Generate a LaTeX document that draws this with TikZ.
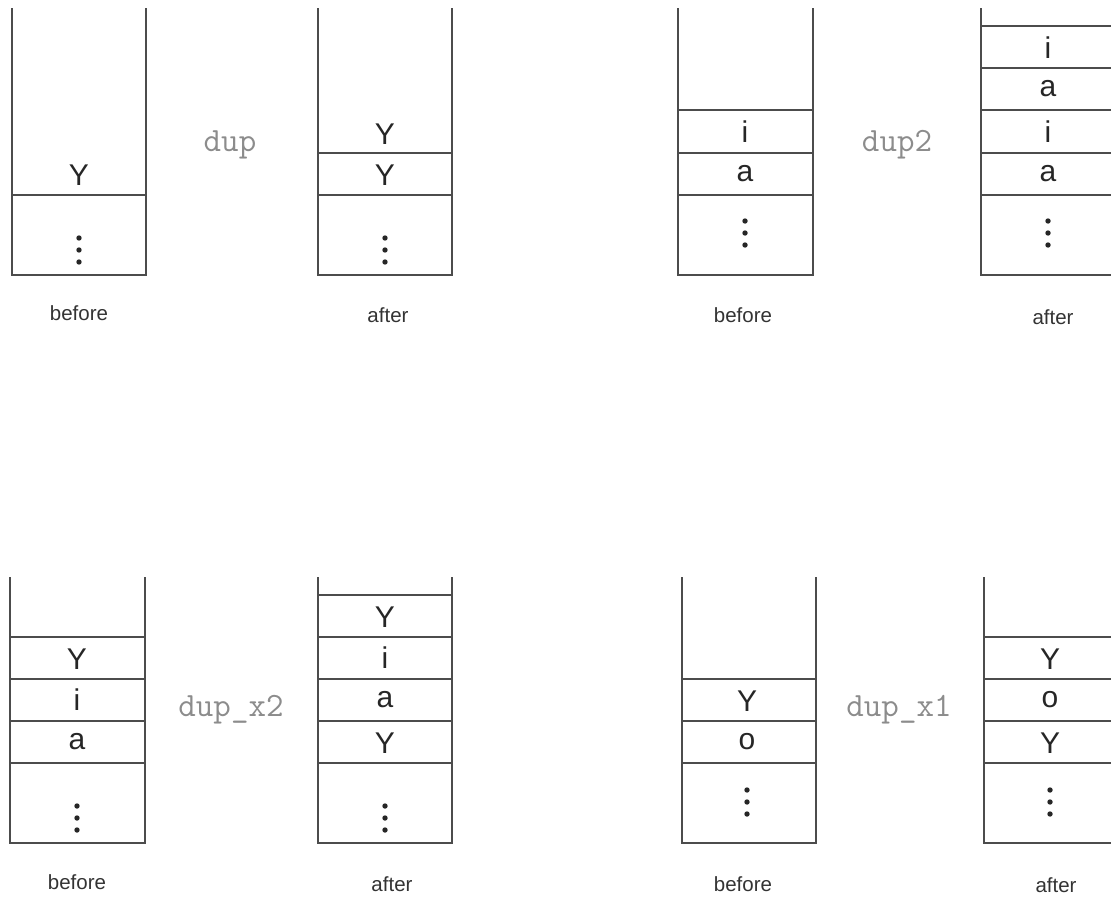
\documentclass[tikz,border=0pt]{standalone}
\usepackage{fontspec}
\usepackage{tikz}
\newfontfamily\arialfont{Liberation Sans}

\tikzset{
  stackline/.style={draw=black!70, line width=1.8pt},
  cell/.style={inner sep=0pt, text=black!85, font=\arialfont\fontsize{30}{30}\selectfont},
  opname/.style={inner sep=0pt, text=black!45, font=\ttfamily\fontsize{34}{34}\selectfont},
  caption/.style={inner sep=0pt, text=black!80, font=\arialfont\fontsize{20.5}{20.5}\selectfont}
}

\begin{document}
\begin{tikzpicture}[x=1pt,y=-1pt]

   \useasboundingbox (0,0) rectangle (1111,897);
   \clip (0,0) rectangle (1111,897);

   % dup
   \draw[stackline] (12,8) -- (12,275) -- (146,275) -- (146,8);
   \draw[stackline] (12,195) -- (146,195);
   \node[cell] (dupBy) at (79,175) {Y};
   \foreach \d in {238,250,262} \fill[black!85] (79,\d) circle (2.7);
   \node[caption] (dupBefore) at (79,313) {before};

   \node[opname] (dupOp) at (230,145) {dup};

   \draw[stackline] (318,8) -- (318,275) -- (452,275) -- (452,8);
   \draw[stackline] (318,153) -- (452,153) (318,195) -- (452,195);
   \node[cell] (dupAyTop) at (385,134) {Y};
   \node[cell] (dupAy) at (385,175) {Y};
   \foreach \d in {238,250,262} \fill[black!85] (385,\d) circle (2.7);
   \node[caption] (dupAfter) at (388,315) {after};

   % dup2
   \draw[stackline] (678,8) -- (678,275) -- (813,275) -- (813,8);
   \draw[stackline] (678,110) -- (813,110) (678,153) -- (813,153) (678,195) -- (813,195);
   \node[cell] (dupTwoBi) at (745,132) {i};
   \node[cell] (dupTwoBa) at (745,174) {a};
   \foreach \d in {221,233,245} \fill[black!85] (745,\d) circle (2.7);
   \node[caption] (dupTwoBefore) at (743,315) {before};

   \node[opname] (dupTwoOp) at (897,145) {dup2};

   \draw[stackline] (981,8) -- (981,275) -- (1116,275) -- (1116,8);
   \draw[stackline] (981,26) -- (1116,26) (981,68) -- (1116,68) (981,110) -- (1116,110)
                    (981,153) -- (1116,153) (981,195) -- (1116,195);
   \node[cell] (dupTwoAiTop) at (1048,48) {i};
   \node[cell] (dupTwoAaTop) at (1048,89) {a};
   \node[cell] (dupTwoAi) at (1048,132) {i};
   \node[cell] (dupTwoAa) at (1048,174) {a};
   \foreach \d in {221,233,245} \fill[black!85] (1048,\d) circle (2.7);
   \node[caption] (dupTwoAfter) at (1053,317) {after};

   % dup_x2
   \draw[stackline] (10,577) -- (10,843) -- (145,843) -- (145,577);
   \draw[stackline] (10,637) -- (145,637) (10,679) -- (145,679) (10,721) -- (145,721)
                    (10,763) -- (145,763);
   \node[cell] (dupXtwoBy) at (77,659) {Y};
   \node[cell] (dupXtwoBi) at (77,700) {i};
   \node[cell] (dupXtwoBa) at (77,742) {a};
   \foreach \d in {806,818,830} \fill[black!85] (77,\d) circle (2.7);
   \node[caption] (dupXtwoBefore) at (77,882) {before};

   \node[opname] (dupXtwoOp) at (231,710) {dup\_x2};

   \draw[stackline] (318,577) -- (318,843) -- (452,843) -- (452,577);
   \draw[stackline] (318,595) -- (452,595) (318,637) -- (452,637) (318,679) -- (452,679)
                    (318,721) -- (452,721) (318,763) -- (452,763);
   \node[cell] (dupXtwoAyTop) at (385,617) {Y};
   \node[cell] (dupXtwoAi) at (385,658) {i};
   \node[cell] (dupXtwoAa) at (385,700) {a};
   \node[cell] (dupXtwoAy) at (385,743) {Y};
   \foreach \d in {806,818,830} \fill[black!85] (385,\d) circle (2.7);
   \node[caption] (dupXtwoAfter) at (392,884) {after};

   % dup_x1
   \draw[stackline] (682,577) -- (682,843) -- (816,843) -- (816,577);
   \draw[stackline] (682,679) -- (816,679) (682,721) -- (816,721) (682,763) -- (816,763);
   \node[cell] (dupXoneBy) at (747,701) {Y};
   \node[cell] (dupXoneBo) at (747,742) {o};
   \foreach \d in {790,802,814} \fill[black!85] (747,\d) circle (2.7);
   \node[caption] (dupXoneBefore) at (743,884) {before};

   \node[opname] (dupXoneOp) at (899,710) {dup\_x1};

   \draw[stackline] (984,577) -- (984,843) -- (1118,843) -- (1118,577);
   \draw[stackline] (984,637) -- (1118,637) (984,679) -- (1118,679) (984,721) -- (1118,721)
                    (984,763) -- (1118,763);
   \node[cell] (dupXoneAyTop) at (1050,659) {Y};
   \node[cell] (dupXoneAo) at (1050,700) {o};
   \node[cell] (dupXoneAy) at (1050,743) {Y};
   \foreach \d in {790,802,814} \fill[black!85] (1050,\d) circle (2.7);
   \node[caption] (dupXoneAfter) at (1056,885) {after};

\end{tikzpicture}
\end{document}
